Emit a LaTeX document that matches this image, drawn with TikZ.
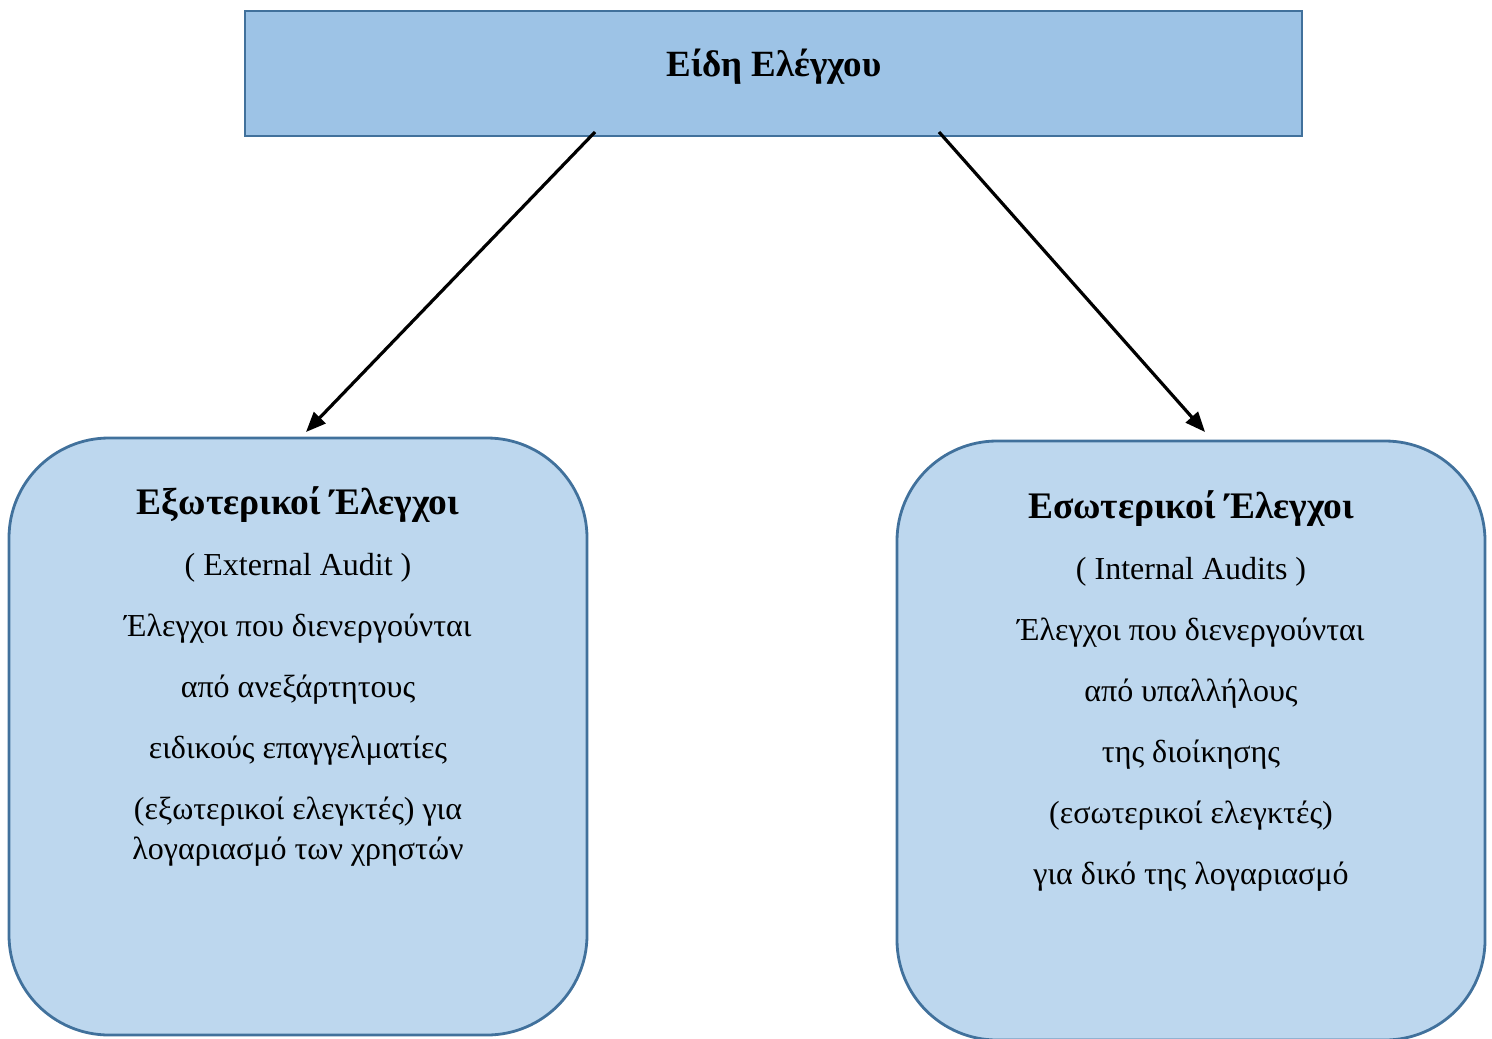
\documentclass[tikz,border=0pt]{standalone}
\usepackage{fontspec}
\setmainfont{Liberation Serif}
\usetikzlibrary{arrows.meta}

\definecolor{topfill}{HTML}{9DC3E6}
\definecolor{boxfill}{HTML}{BDD7EE}
\definecolor{boxline}{HTML}{41719C}

\tikzset{
  headbox/.style={draw=boxline, line width=1.4pt, fill=topfill,
    inner sep=0pt, outer sep=0pt, minimum width=528.5pt, minimum height=62.5pt},
  kindbox/.style={draw=boxline, line width=1.4pt, fill=boxfill,
    rounded corners=50pt, inner sep=0pt, outer sep=0pt},
  % anchored at the baseline of the last line
  bodytext/.style={align=center, inner sep=0pt, anchor=base,
    font=\fontsize{16}{30.5}\selectfont},
  arr/.style={line width=1.6pt, -{Triangle[length=10pt,width=8pt]}}
}

\begin{document}
\begin{tikzpicture}[x=0.5pt, y=-0.5pt]
  \useasboundingbox (0,0) rectangle (1492,1038);

  % header
  \node[headbox] (top) at (773.5,73.5) {};
  \node[inner sep=0pt, anchor=base, font=\fontsize{18.5}{20}\selectfont\bfseries]
    (toptitle) at (774,77) {Είδη Ελέγχου};

  % the two kinds of audit
  \node[kindbox, minimum width=289pt, minimum height=298.5pt] (ext) at (298,736.5) {};
  \node[kindbox, minimum width=294pt, minimum height=299.5pt] (int) at (1191,740.5) {};

  \node[bodytext] (exttext) at (298,859) {%
    {\fontsize{18.75}{30.5}\selectfont\bfseries Εξωτερικοί Έλεγχοι}\\
    ( External Audit )\\
    Έλεγχοι που διενεργούνται\\
    από ανεξάρτητους\\
    ειδικούς επαγγελματίες\\
    (εξωτερικοί ελεγκτές) για\\[-10.5pt]
    λογαριασμό των χρηστών};

  \node[bodytext] (inttext) at (1191,884) {%
    {\fontsize{18.75}{30.5}\selectfont\bfseries Εσωτερικοί Έλεγχοι}\\
    ( Internal Audits )\\
    Έλεγχοι που διενεργούνται\\
    από υπαλλήλους\\
    της διοίκησης\\
    (εσωτερικοί ελεγκτές)\\
    για δικό της λογαριασμό};

  % connectors
  \draw[arr] ([xshift=175pt,yshift=2pt]top.south west) -- ([xshift=148.5pt,yshift=3pt]ext.north west);
  \draw[arr] ([xshift=347pt,yshift=2pt]top.south west) -- ([xshift=154pt,yshift=4.5pt]int.north west);
\end{tikzpicture}
\end{document}
